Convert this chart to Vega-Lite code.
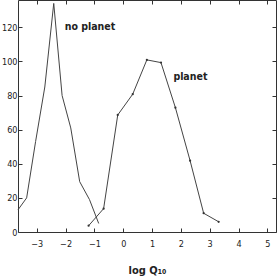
{
  "$schema": "https://vega.github.io/schema/vega-lite/v6.json",
  "width": 258,
  "height": 232,
  "autosize": "none",
  "padding": {"left": 18, "top": 0, "right": 1, "bottom": 45},
  "config": {
    "view": {"stroke": "#333", "strokeWidth": 1},
    "axis": {
      "grid": false,
      "domainColor": "#333",
      "tickColor": "#333",
      "labelColor": "#222",
      "labelFont": "DejaVu Sans Condensed",
      "labelFontSize": 9,
      "titleFont": "DejaVu Sans Condensed",
      "titleFontWeight": "bold",
      "titleFontSize": 11,
      "titleColor": "#222"
    }
  },
  "datasets": {
    "curves": [
      {"logq": -3.65, "count": 13, "series": "no planet"},
      {"logq": -3.35, "count": 20, "series": "no planet"},
      {"logq": -3.04, "count": 53, "series": "no planet"},
      {"logq": -2.72, "count": 85, "series": "no planet"},
      {"logq": -2.41, "count": 134, "series": "no planet"},
      {"logq": -2.12, "count": 80, "series": "no planet"},
      {"logq": -1.82, "count": 61, "series": "no planet"},
      {"logq": -1.51, "count": 29.5, "series": "no planet"},
      {"logq": -1.17, "count": 19, "series": "no planet"},
      {"logq": -0.85, "count": 5, "series": "no planet"},
      {"logq": -1.2, "count": 3.7, "series": "planet"},
      {"logq": -0.68, "count": 13.7, "series": "planet"},
      {"logq": -0.19, "count": 68.6, "series": "planet"},
      {"logq": 0.33, "count": 80.8, "series": "planet"},
      {"logq": 0.82, "count": 100.9, "series": "planet"},
      {"logq": 1.31, "count": 99.3, "series": "planet"},
      {"logq": 1.81, "count": 72.9, "series": "planet"},
      {"logq": 2.32, "count": 41.8, "series": "planet"},
      {"logq": 2.79, "count": 11, "series": "planet"},
      {"logq": 3.31, "count": 6, "series": "planet"}
    ],
    "labels": [
      {"logq": -2.03, "count": 120, "text": "no planet"},
      {"logq": 1.74, "count": 91, "text": "planet"}
    ]
  },
  "resolve": {"axis": {"x": "independent", "y": "independent"}},
  "layer": [
    {
      "data": {"name": "curves"},
      "mark": {"type": "line", "color": "#444", "strokeWidth": 1},
      "encoding": {
        "x": {"field": "logq", "type": "quantitative", "scale": {"domain": [-3.65, 5.3], "nice": false, "zero": false},
              "axis": {"title": "log Q₁₀", "values": [-3,-2,-1,0,1,2,3,4,5], "tickSize": -4, "labelPadding": 11, "titlePadding": 16, "domain": false}},
        "y": {"field": "count", "type": "quantitative", "scale": {"domain": [0, 136], "nice": false},
              "axis": {"title": null, "values": [0,20,40,60,80,100,120], "tickSize": -4, "labelPadding": 5, "domain": false}},
        "detail": {"field": "series"}
      }
    },
    {
      "data": {"name": "curves"},
      "transform": [{"filter": "datum.series == 'planet'"}],
      "mark": {"type": "point", "filled": true, "color": "#333", "size": 5, "opacity": 1},
      "encoding": {
        "x": {"field": "logq", "type": "quantitative", "axis": {"orient": "top", "labels": false, "title": null, "values": [-3,-2,-1,0,1,2,3,4,5], "tickSize": -4, "domain": false}},
        "y": {"field": "count", "type": "quantitative", "axis": {"orient": "right", "labels": false, "title": null, "values": [0,20,40,60,80,100,120], "tickSize": -4, "domain": false}}
      }
    },
    {
      "data": {"name": "labels"},
      "mark": {"type": "text", "align": "left", "baseline": "middle", "font": "DejaVu Sans Condensed", "fontWeight": "bold", "fontSize": 10.5, "color": "#222"},
      "encoding": {
        "x": {"field": "logq", "type": "quantitative", "axis": null},
        "y": {"field": "count", "type": "quantitative", "axis": null},
        "text": {"field": "text"}
      }
    }
  ]
}
